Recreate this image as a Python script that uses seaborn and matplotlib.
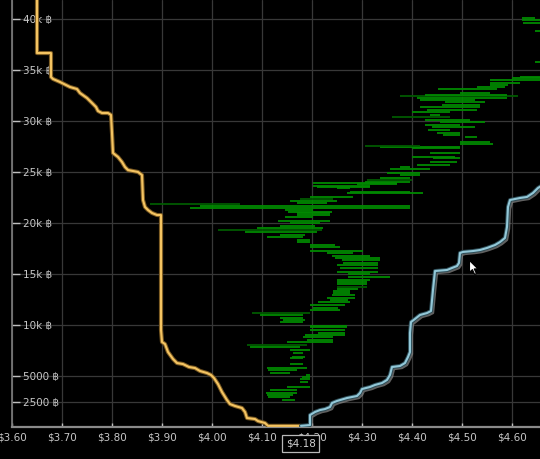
import matplotlib
matplotlib.use("Agg")
import matplotlib.pyplot as plt
import matplotlib.patheffects as pe
from matplotlib.path import Path
from matplotlib.markers import MarkerStyle
import seaborn as sns
import pandas as pd

# ---------------- data ----------------
bid_price = [4.178, 4.112, 4.106, 4.092, 4.086, 4.070, 4.066, 4.060, 4.046, 4.036,
             4.030, 4.020, 4.012, 4.004, 3.998, 3.990, 3.976, 3.966, 3.954, 3.942,
             3.930, 3.922, 3.912, 3.906, 3.900, 3.898, 3.898, 3.890, 3.880, 3.872,
             3.866, 3.862, 3.860, 3.852, 3.832, 3.826, 3.820, 3.812, 3.802, 3.800,
             3.798, 3.792, 3.780, 3.772, 3.768, 3.762, 3.750, 3.736, 3.730, 3.716,
             3.696, 3.682, 3.678, 3.678, 3.650, 3.650]
bid_depth = [140, 140, 420, 610, 810, 910, 1500, 1890, 2090, 2280,
             2670, 3460, 4240, 4830, 5130, 5320, 5520, 5810, 5910, 6200,
             6300, 6700, 7380, 8160, 8360, 9540, 20810, 20810, 21010, 21300,
             21600, 22280, 24730, 25030, 25220, 25520, 26010, 26500, 26890, 28850,
             30620, 30810, 30810, 31010, 31400, 31700, 32280, 32770, 33160, 33360,
             33850, 34150, 34340, 36690, 36690, 43000]

ask_price = [4.178, 4.196, 4.196, 4.206, 4.216, 4.226, 4.236, 4.240, 4.250, 4.270,
             4.290, 4.296, 4.300, 4.316, 4.326, 4.340, 4.350, 4.356, 4.360, 4.376,
             4.386, 4.392, 4.396, 4.396, 4.398, 4.406, 4.416, 4.430, 4.438, 4.442,
             4.446, 4.470, 4.480, 4.490, 4.494, 4.496, 4.502, 4.522, 4.536, 4.550,
             4.566, 4.576, 4.586, 4.590, 4.592, 4.596, 4.616, 4.630, 4.642, 4.652,
             4.670]
ask_depth = [140, 220, 1200, 1500, 1690, 1790, 1990, 2380, 2580, 2870,
             3070, 3360, 3750, 3950, 4150, 4340, 4640, 5130, 5910, 6010,
             6300, 6890, 7380, 9250, 10320, 10620, 11010, 11200, 11400, 13460,
             15320, 15420, 15620, 15810, 16110, 17090, 17190, 17280, 17380, 17580,
             17870, 18160, 18560, 19640, 21600, 22280, 22480, 22580, 22970, 23460,
             24000]

# historical order segments: volume level, price from, price to
seg_vol = [2670, 2970, 3160, 3360, 3650, 3950, 4440, 4730, 4930, 5130,
           5320, 5620, 5810, 6200, 6790, 6890, 7280, 7580, 7870, 8070,
           8360, 8560, 8850, 9050, 9240, 9540, 9830, 9930, 10320, 10520,
           10710, 11010, 11200, 11500, 11690, 11990, 12280, 12480, 12670, 12970,
           13160, 13360, 13560, 13750, 14050, 14240, 14440, 14730, 15030, 15220,
           15620, 15910, 16110, 16400, 16600, 16790, 17090, 17280, 17670, 17870,
           18160, 18360, 18650, 18850, 19140, 19340, 19540, 19730, 20030, 20220,
           20620, 20810, 21010, 21110, 21300, 21500, 21690, 21890, 21990, 22180,
           22380, 22580, 22970, 23070, 23460, 23560, 23650, 23850, 23950, 24050,
           24240, 24440, 24730, 24930, 25320, 25520, 25710, 26010, 26400, 26500,
           26890, 27380, 27480, 27580, 27770, 27970, 28460, 28650, 28850, 29140,
           29440, 29630, 29930, 30120, 30420, 30620, 30910, 31110, 31400, 31600,
           31890, 32090, 32280, 32480, 32580, 32770, 33160, 33360, 33560, 33750,
           34050, 34240, 34340, 35810, 38850, 39640, 39930, 40130]
seg_lo = [4.140, 4.112, 4.110, 4.108, 4.116, 4.150, 4.176, 4.176, 4.180, 4.188,
          4.116, 4.112, 4.110, 4.156, 4.156, 4.160, 4.162, 4.156, 4.076, 4.070,
          4.150, 4.190, 4.182, 4.186, 4.212, 4.196, 4.196, 4.196, 4.136, 4.142,
          4.136, 4.096, 4.080, 4.196, 4.202, 4.196, 4.212, 4.236, 4.230, 4.240,
          4.242, 4.242, 4.250, 4.250, 4.250, 4.250, 4.250, 4.272, 4.272, 4.250,
          4.256, 4.250, 4.262, 4.260, 4.246, 4.240, 4.230, 4.196, 4.196, 4.196,
          4.170, 4.170, 4.110, 4.136, 4.066, 4.012, 4.090, 4.136, 4.156, 4.132,
          4.146, 4.170, 4.170, 4.152, 4.146, 3.956, 3.976, 3.876, 4.170, 4.156,
          4.176, 4.196, 4.270, 4.276, 4.250, 4.210, 4.202, 4.290, 4.202, 4.306,
          4.310, 4.336, 4.376, 4.350, 4.356, 4.376, 4.410, 4.436, 4.442, 4.400,
          4.436, 4.400, 4.336, 4.306, 4.496, 4.496, 4.506, 4.462, 4.450, 4.432,
          4.440, 4.426, 4.456, 4.426, 4.360, 4.436, 4.400, 4.430, 4.416, 4.460,
          4.466, 4.416, 4.410, 4.376, 4.426, 4.496, 4.452, 4.530, 4.556, 4.556,
          4.556, 4.600, 4.616, 4.646, 4.646, 4.622, 4.620, 4.620]
seg_hi = [4.166, 4.156, 4.162, 4.170, 4.170, 4.196, 4.192, 4.196, 4.196, 4.196,
          4.156, 4.170, 4.190, 4.182, 4.182, 4.186, 4.182, 4.196, 4.176, 4.190,
          4.242, 4.242, 4.242, 4.266, 4.266, 4.266, 4.270, 4.270, 4.182, 4.186,
          4.182, 4.182, 4.196, 4.256, 4.252, 4.266, 4.276, 4.272, 4.286, 4.286,
          4.276, 4.276, 4.292, 4.310, 4.310, 4.310, 4.316, 4.356, 4.316, 4.332,
          4.332, 4.332, 4.332, 4.336, 4.336, 4.316, 4.282, 4.302, 4.256, 4.246,
          4.196, 4.196, 4.182, 4.186, 4.210, 4.220, 4.222, 4.206, 4.216, 4.236,
          4.202, 4.236, 4.236, 4.240, 4.202, 4.396, 4.396, 4.056, 4.230, 4.250,
          4.242, 4.282, 4.422, 4.396, 4.276, 4.316, 4.316, 4.370, 4.370, 4.396,
          4.400, 4.396, 4.416, 4.416, 4.436, 4.396, 4.476, 4.490, 4.496, 4.486,
          4.496, 4.496, 4.496, 4.416, 4.562, 4.556, 4.530, 4.496, 4.496, 4.476,
          4.526, 4.496, 4.546, 4.516, 4.476, 4.456, 4.476, 4.530, 4.536, 4.536,
          4.546, 4.526, 4.590, 4.612, 4.590, 4.556, 4.570, 4.586, 4.592, 4.616,
          4.656, 4.656, 4.656, 4.656, 4.656, 4.656, 4.656, 4.646]
seg_dark = [21890, 30420, 27580, 19340, 11200, 8070, 22380, 32480, 24240, 13750]

x_ticks = [3.60, 3.70, 3.80, 3.90, 4.00, 4.10, 4.20, 4.30, 4.40, 4.50, 4.60]
x_tick_labels = ["$3.60", "$3.70", "$3.80", "$3.90", "$4.00", "$4.10", "$4.20",
                 "$4.30", "$4.40", "$4.50", "$4.60"]
y_ticks = [2500, 5000, 10000, 15000, 20000, 25000, 30000, 35000, 40000]
y_tick_labels = ["2500 ฿", "5000 ฿", "10k ฿", "15k ฿", "20k ฿", "25k ฿",
                 "30k ฿", "35k ฿", "40k ฿"]
last_price = 4.18
last_label = "$4.18"
cursor_price, cursor_vol = 4.514, 16400

# ---------------- style ----------------
sns.set_theme(style="dark", rc={
    "figure.facecolor": "black", "axes.facecolor": "black",
    "axes.edgecolor": "#8a8a8a", "grid.color": "#383838",
    "axes.grid": True, "grid.linewidth": 0.9,
})
plt.rcParams["font.family"] = ["DejaVu Sans", "Noto Sans"]

fig = plt.figure(figsize=(5.4, 4.59), dpi=100)
ax = fig.add_axes([12 / 540, 31.7 / 459, 528 / 540, 427.3 / 459])

# green historical segments
seg_colors = ["#005a00" if v in seg_dark else "#008a00" for v in seg_vol]
ax.hlines(seg_vol, seg_lo, seg_hi, colors=seg_colors, lw=1.3, zorder=1.8)

bid_df = pd.DataFrame({"price": bid_price, "depth": bid_depth})
ask_df = pd.DataFrame({"price": ask_price, "depth": ask_depth})

sns.lineplot(data=bid_df, x="price", y="depth", sort=False, estimator=None,
             color="#f4c462", lw=1.5, ax=ax, zorder=3)
ax.lines[-1].set_path_effects([pe.Stroke(linewidth=3.0, foreground="#7a5a22"),
                               pe.Normal()])
sns.lineplot(data=ask_df, x="price", y="depth", sort=False, estimator=None,
             color="#93c8d8", lw=1.5, ax=ax, zorder=3)
ax.lines[-1].set_path_effects([
    pe.SimpleLineShadow(offset=(1.4, -1.4), shadow_color="#8a8a8a", alpha=0.7, linewidth=1.8),
    pe.Stroke(linewidth=2.9, foreground="#2e4e58"), pe.Normal()])

# mouse cursor
cur_path = Path([(0, 0), (0, -16), (4, -12.5), (7, -19), (9.5, -18), (6.5, -11.5),
                 (11.5, -11.5), (0, 0)], closed=True)
ax.plot([cursor_price], [cursor_vol], marker=MarkerStyle(cur_path), ms=20,
        mfc="white", mec="black", mew=0.8, ls="none", zorder=6)

ax.set_xlim(3.60, 4.656)
ax.set_ylim(0, 41890)
ax.set_xlabel("")
ax.set_ylabel("")
ax.set_xticks(x_ticks)
ax.set_xticklabels(x_tick_labels)
ax.set_yticks(y_ticks)
ax.set_yticklabels(y_tick_labels)
ax.tick_params(axis="x", direction="in", length=3, width=1, color="#c0c0c0",
               labelcolor="#c8c8c8", labelsize=7.5, pad=4, bottom=True)
ax.tick_params(axis="y", direction="in", length=5.5, width=1, color="#c0c0c0",
               labelcolor="#c8c8c8", labelsize=7.5, pad=-8, left=True)
for lbl in ax.get_yticklabels():
    lbl.set_horizontalalignment("left")
for s in ["top", "right"]:
    ax.spines[s].set_visible(False)
ax.spines["left"].set_color("#7a7a7a")
ax.spines["bottom"].set_color("#8a8a8a")
ax.spines["bottom"].set_linewidth(1.6)

ax.annotate(last_label, xy=(last_price, 0), xytext=(-1, -11.5), textcoords="offset points",
            ha="center", va="center", color="#d0d0d0", fontsize=7.5,
            bbox=dict(boxstyle="square,pad=0.35", fc="black", ec="#b8b8b8", lw=0.9),
            annotation_clip=False, zorder=10)

fig.savefig("out.png", dpi=100, facecolor="black")
